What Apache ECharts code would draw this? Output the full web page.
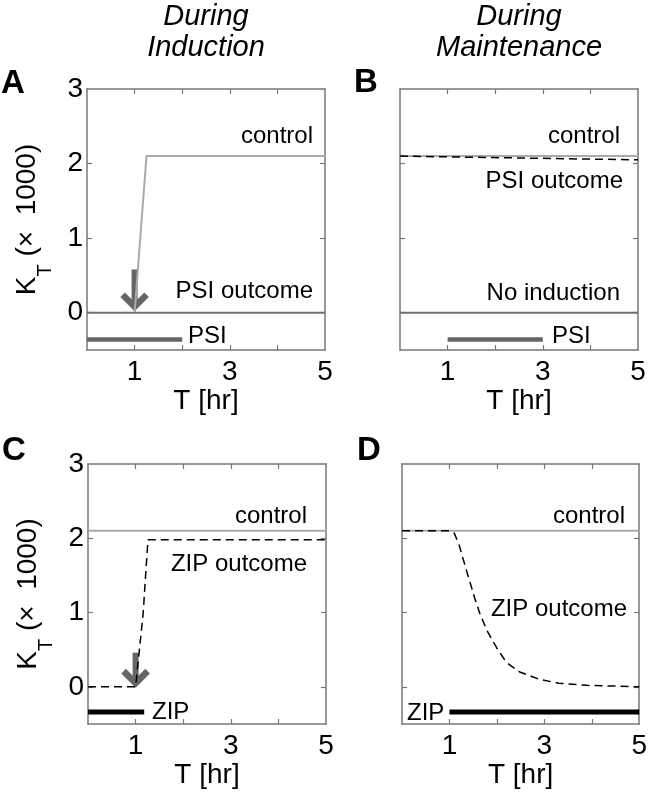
<!DOCTYPE html>
<html>
<head>
<meta charset="utf-8">
<script src="https://cdn.jsdelivr.net/npm/echarts@6/dist/echarts.min.js"></script>
<style>
html,body{margin:0;padding:0;background:#fff;}
#chart{width:650px;height:795px;}
</style>
</head>
<body>
<div id="chart"></div>
<script>
// ---- tick values ----
const xTickLabels = [1, 3, 5];
const xTicks = [1, 2, 3, 4];
const yTickLabels = [0, 1, 2, 3];
const yTicks = [0, 1, 2];

// ---- Panel A (PSI during induction) ----
const aControl = [[1, 0], [1.25, 2.1], [5, 2.1]];
const aPsiOutcome = [[0, 0], [5, 0]];
const aPsiBar = [[0, -0.36], [2, -0.36]];
const aArrow = [[1, 0.58, 0.08]];

// ---- Panel B (PSI during maintenance) ----
const bControl = [[0, 2.1], [5, 2.1]];
const bPsiOutcome = [[0, 2.1], [5, 2.05]];
const bNoInduction = [[0, 0], [5, 0]];
const bPsiBar = [[1, -0.36], [3, -0.36]];

// ---- Panel C (ZIP during induction) ----
const cControl = [[0, 2.1], [5, 2.1]];
const cZipOutcome = [[0, 0], [1, 0], [1.08, 0.5], [1.16, 1.0], [1.21, 1.5], [1.26, 1.98], [5, 1.98]];
const cZipBar = [[0, -0.34], [1.18, -0.34]];
const cArrow = [[1, 0.46, 0.05]];

// ---- Panel D (ZIP during maintenance) ----
const dControl = [[0, 2.1], [5, 2.1]];
const dZipOutcome = [[0, 2.1], [1, 2.1], [1.1, 2.07], [1.2, 1.92], [1.28, 1.74], [1.4, 1.48], [1.53, 1.2],
  [1.65, 0.97], [1.79, 0.76], [2.0, 0.52], [2.2, 0.33], [2.48, 0.2], [2.9, 0.1], [3.3, 0.05], [3.9, 0.02], [4.5, 0.01], [5, 0]];
const dZipBar = [[1, -0.34], [5, -0.34]];

const FONT = 'Liberation Sans, Arial, Helvetica, sans-serif';
const AX = '#777';

const grids = [
  {left: 87, top: 89, width: 238, height: 261},
  {left: 400, top: 89, width: 238, height: 261},
  {left: 88, top: 464, width: 238, height: 260},
  {left: 402, top: 464, width: 238, height: 260}
];

const xAxes = [], yAxes = [];
grids.forEach((g, gi) => {
  const line = {show: true, onZero: false, lineStyle: {color: AX, width: 1.5}};
  const tickX = {show: true, inside: true, length: 5, customValues: xTicks, lineStyle: {color: AX, width: 1.2}};
  const tickY = {show: true, inside: true, length: 5, customValues: yTicks, lineStyle: {color: AX, width: 1.2}};
  xAxes.push({
    gridIndex: gi, type: 'value', min: 0, max: 5, position: 'bottom',
    axisLine: line, axisTick: tickX, splitLine: {show: false},
    axisLabel: {customValues: xTickLabels, fontSize: 28, color: '#000', margin: 8, fontFamily: FONT},
    name: 'T [hr]', nameLocation: 'middle', nameGap: 35,
    nameTextStyle: {fontSize: 28, color: '#000', fontFamily: FONT, lineHeight: 28, verticalAlign: 'top'}
  });
  xAxes.push({
    gridIndex: gi, type: 'value', min: 0, max: 5, position: 'top',
    axisLine: line, axisTick: tickX, splitLine: {show: false}, axisLabel: {show: false}
  });
  const left = {
    gridIndex: gi, type: 'value', min: -0.5, max: 3, position: 'left',
    axisLine: line, axisTick: tickY, splitLine: {show: false},
    axisLabel: {show: gi % 2 === 0, customValues: yTickLabels, fontSize: 28, color: '#000', margin: 4, fontFamily: FONT}
  };
  if (gi % 2 === 0) {
    left.name = '{k|K}{t|T}{k| (×  1000)}';
    left.nameLocation = 'middle';
    left.nameGap = 32;
    left.nameTextStyle = {
      fontFamily: FONT, color: '#000',
      rich: {
        k: {fontSize: 28, lineHeight: 56, verticalAlign: 'middle', fontFamily: FONT, color: '#000'},
        t: {fontSize: 20, lineHeight: 20, verticalAlign: 'bottom', fontFamily: FONT, color: '#000'}
      }
    };
  }
  yAxes.push(left);
  yAxes.push({
    gridIndex: gi, type: 'value', min: -0.5, max: 3, position: 'right',
    axisLine: line, axisTick: tickY, splitLine: {show: false}, axisLabel: {show: false}
  });
});

function lineSeries(gi, data, color, width, type) {
  return {
    type: 'line', xAxisIndex: gi * 2, yAxisIndex: gi * 2, data: data,
    symbol: 'none', silent: true, animation: false, clip: false,
    lineStyle: {color: color, width: width, type: type || 'solid', cap: 'butt'}
  };
}
function arrowSeries(gi, data) {
  return {
    type: 'custom', xAxisIndex: gi * 2, yAxisIndex: gi * 2, data: data, clip: false,
    animation: false, silent: true, encode: {x: 0, y: [1, 2]},
    renderItem(params, api) {
      const top = api.coord([api.value(0), api.value(1)]);
      const tip = api.coord([api.value(0), api.value(2)]);
      return {
        type: 'group', children: [
          {type: 'line', shape: {x1: top[0], y1: top[1], x2: tip[0], y2: tip[1] - 3},
            style: {stroke: '#666', lineWidth: 6}},
          {type: 'polyline', shape: {points: [[tip[0] - 12, tip[1] - 12], [tip[0], tip[1]], [tip[0] + 12, tip[1] - 12]]},
            style: {stroke: '#666', lineWidth: 6.5, fill: null, lineJoin: 'miter'}}
        ]
      };
    }
  };
}

const CTRL = '#aaaaaa', OUT = '#707070', DASH = [8, 5];
const series = [
  lineSeries(0, aControl, CTRL, 2),
  lineSeries(0, aPsiOutcome, OUT, 2),
  lineSeries(0, aPsiBar, '#666', 4.5),
  arrowSeries(0, aArrow),

  lineSeries(1, bControl, CTRL, 2),
  lineSeries(1, bPsiOutcome, '#000', 1.5, DASH),
  lineSeries(1, bNoInduction, OUT, 2),
  lineSeries(1, bPsiBar, '#666', 4.5),

  lineSeries(2, cControl, CTRL, 2),
  lineSeries(2, cZipOutcome, '#000', 1.5, DASH),
  lineSeries(2, cZipBar, '#000', 5),
  arrowSeries(2, cArrow),

  lineSeries(3, dControl, CTRL, 2),
  lineSeries(3, dZipOutcome, '#000', 1.5, DASH),
  lineSeries(3, dZipBar, '#000', 5)
];

function txt(text, x, y, align, size, extra) {
  return {
    type: 'text', x: x, y: y, silent: true,
    style: Object.assign({text: text, fontFamily: FONT, fontSize: size || 24, fill: '#000',
      align: align || 'right', verticalAlign: 'middle'}, extra || {})
  };
}
const ital = {fontStyle: 'italic'};
const bold = {fontWeight: 'bold'};
const graphic = [
  txt('During', 206, 17, 'center', 29, ital),
  txt('Induction', 206, 48, 'center', 29, ital),
  txt('During', 519, 17, 'center', 29, ital),
  txt('Maintenance', 519, 48, 'center', 29, ital),
  txt('A', 1, 84, 'left', 33, bold),
  txt('B', 354, 83, 'left', 33, bold),
  txt('C', 2, 451, 'left', 33, bold),
  txt('D', 357, 451, 'left', 33, bold),

  txt('control', 313, 136),
  txt('PSI outcome', 313, 291),
  txt('PSI', 188, 336, 'left'),

  txt('control', 620, 136),
  txt('PSI outcome', 623, 181),
  txt('No induction', 620, 293),
  txt('PSI', 552, 336, 'left'),

  txt('control', 307, 516),
  txt('ZIP outcome', 307, 564),
  txt('ZIP', 152, 712, 'left'),

  txt('control', 625, 516),
  txt('ZIP outcome', 627, 609),
  txt('ZIP', 407, 713, 'left')
];

const chart = echarts.init(document.getElementById('chart'), null, {renderer: 'canvas'});
chart.setOption({
  animation: false,
  backgroundColor: '#fff',
  grid: grids,
  xAxis: xAxes,
  yAxis: yAxes,
  series: series,
  graphic: graphic
});
</script>
</body>
</html>
